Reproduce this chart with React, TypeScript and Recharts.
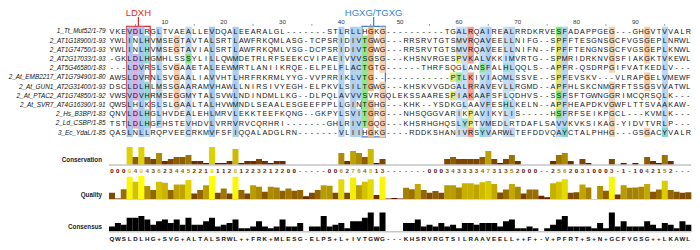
import React from 'react';
import { ScatterChart, Scatter, XAxis, YAxis, ReferenceArea, BarChart, Bar, Cell } from 'recharts';

const seqNames = [
  '1_Tt_Mut52/1-79',
  '2_AT1G18900/1-93',
  '2_AT1G74750/1-93',
  '2_AT2G17033/1-93',
  '2_AT5G46580/1-83',
  '2_At_EMB2217_AT1G79490/1-80',
  '2_At_GUN1_AT2G31400/1-93',
  '2_At_PTAC2_AT1G74850/1-92',
  '2_At_SVR7_AT4G16390/1-91',
  '2_Hs_B3BP/1-83',
  '2_Ld_CSBP/1-85',
  '3_Ec_YdaL/1-85',
];

const sequences = [
  'VKEVDLRGLTVAEALLEVDQALEEARALGL-------STLRLLHGKG----------TGALRQAIREALRRDKRVESFADAPPGEG---GHGVTVVALR',
  'YWLINLHVMSEGTAVTALSRTLAWFRKQMLASG-TCPSRIDIVTGWG---RRSRVTGTSMVRQAVEELLNIFG--SPFFTESGNSGCFVGSGEPLNRWL',
  'YWLINLHVMSEGTAVIALSRTLAWFRKQMLVSG-DCPSRIDIVTGWG---RRSRVTGTSMVRQAVEELLNIFN--FPFFTENGNSGCFVGSGEPLKNWL',
  '-GKLDLHGMHLSSSYLILLQWMDETRLRFSEEKCVIPAEIVVVSGSG---KHSNVRGESPVKALVKKIMVRTG--SPMRIDRKNVGSFIAKGKTVKEWL',
  '---LDVRSLSVGAAETALEEWMRTLANIIKRQE-ELPELFLACTGTG------THRFSQGLANSFALHLQQLS--APFR-QSDRPGIFVATKEDLV---',
  'AWSLDVRNLSVGAALIAVVHTLHRFRKRMLYYG-VVPRRIKLVTG-------------PTLKIVIAQMLSSVE--SPFEVSKV---VLRAPGELVMEWF',
  'DSCLDLHLMSSGAARAMVHAWLLNIRSIVYEGH-ELPKVLSILTGWG---KHSKVVGDGALRRAVEVLLRGMD--APFHLSKCNMGRFTSSGSVVATWL',
  'VWSVDVHRMSEGGMYTALSVWLNDINDMLLKG--DLPQLAVVVSVRGQLEKSSAARESPIAKAAFSFLQDHVS--SSFSFTGWNGGRIMCQRSQLK---',
  'QWSLHLKSLSLGAALTALHVWMNDLSEAALESGEEFPPLLGINTGHG---KHK--YSDKGLAAVFESHLKELN--APFHEAPDKVGWFLTTSVAAKAW-',
  'QNVLDLHGLHVDEALEHLMRVLEKKTEEFKQNG--GKPYLSVITGRG---NHSQGGVARIKPAVIKYLIS-----HSFRFSEIKPGCL---KVMLK---',
  'TSTLDLHGFHSTEVHDVLVRRVRVCQRHRI-------GHLRIVTGQG---KHSRHGHQSLYPTVMEDLRTDAFLSAVVKVKSIKAG-YIDVTVRLP---',
  'QASLNLLRQPVEECRKMVFSFIQQALADGLRN-------VLIIHGKG----RDDKSHANIVRSYVARWLTEFDDVQAYCTALPHHG---GSGACYVALR',
];

const rulerTicks = [5, 10, 15, 20, 25, 30, 35, 40, 45, 50, 55, 60, 65, 70, 75, 80, 85, 90, 95];

const conservationSymbols = (
  '0009494362344522191128' + '1223212200' + '-----' + '0062764813' + '-------' +
  '0003433334731352000' + '--' + '25620310003' + '-' + '1' + '-' + '1042152' + '---'
).split('');

const qualityValues = [
  29, 4, 44, 97, 76, 100, 57, 40, 76, 71,
  40, 64, 64, 83, 26, 40, 61, 100, 29, 47,
  26, 97, 40, 26, 61, 54, 33, 54, 51, 37,
  47, 37, 40, 14, 29, 40, 61, 59, 29, 86,
  29, 94, 61, 76, 86, 19, 97, 4, 6, 4,
  50, 44, 66, 40, 29, 36, 29, 61, 61, 51,
  69, 69, 64, 73, 79, 66, 30, 43, 66, 54,
  26, 43, 43, 16, 10, 69, 76, 86, 29, 31,
  64, 51, 0, 57, 37, 97, 21, 61, 50, 51,
  54, 66, 33, 43, 80, 40, 33, 29, 31,
];

const consensusValues = [
  25, 42, 33, 67, 67, 75, 58, 33, 50, 58,
  42, 58, 33, 67, 33, 33, 50, 67, 25, 33,
  42, 58, 17, 17, 25, 50, 25, 17, 25, 58,
  25, 25, 42, 0, 25, 25, 75, 25, 33, 42,
  17, 50, 50, 67, 92, 25, 92, 0, 0, 0,
  42, 42, 58, 25, 33, 25, 42, 25, 33, 17,
  42, 42, 33, 42, 42, 42, 25, 50, 58, 17,
  17, 25, 17, 0, 17, 33, 58, 75, 25, 25,
  25, 25, 17, 42, 17, 92, 25, 50, 25, 25,
  25, 50, 33, 17, 42, 33, 17, 50, 33,
];

const consensusLetters =
  'QWSLDLHG+SVG+ALTALSRWL++FRK+MLESG-ELPS+L+IVTGWG---KHSRVRGTSILRAAVEELL++F+-V+PFRT+S+N+GCFVGSG++LKAWL'.split('');

const motifLabels = ['LDXH', 'HGXG/TGXG'];
const motifStartCol = [4, 44];
const motifEndCol = [7, 47];
const motifLastRow = [11, 12];

const trackLabels = ['Conservation', 'Quality', 'Consensus'];

// ---------- styling / geometry ----------
const FONT = '"Liberation Sans", Arial, Helvetica, sans-serif';
const W = 700;
const LEFT = 109;
const RIGHT = 8.8;
const NCOL = 99;
const CELL_W = (W - LEFT - RIGHT) / NCOL;
const MOTIF_COLORS = ['#e8262a', '#3a7fd6'];

const AL_H = 140;
const AL_MT = 6.4;
const AL_AXIS_H = 20;
const AL_MB = 3.1;
const ROW_H = (AL_H - AL_MT - AL_AXIS_H - AL_MB) / seqNames.length;

const BASE: Record<string, number[]> = {
  blue: [128, 179, 230],
  red: [230, 51, 26],
  green: [26, 204, 26],
  orange: [230, 153, 77],
  cyan: [26, 179, 179],
  pink: [230, 128, 128],
  magenta: [204, 77, 204],
  yellow: [204, 204, 0],
};

const bleach = (rgb: number[], f: number) =>
  `rgb(${rgb.map((v) => Math.round(v + (255 - v) * f)).join(',')})`;

const annColor = (v: number) => {
  const t = Math.max(0, Math.min(1, v));
  return `rgb(${Math.round(76 + 179 * t)},${Math.round(255 * t)},0)`;
};

const consScore = (c: number) => {
  const s = conservationSymbols[c];
  if (s === '*') return 11;
  if (s === '+') return 10;
  const n = Number(s);
  return Number.isFinite(n) ? n : -1;
};

function clustalClass(res: string, counts: Record<string, number>, n: number): string | null {
  const pct = (set: string) => (set.split('').reduce((s, c) => s + (counts[c] || 0), 0) / n) * 100;
  const any85 = (set: string) => set.split('').some((c) => pct(c) >= 85);
  const hyd = pct('WLVIMAFCHP');
  const kr = pct('KR');
  const qe = pct('QE');
  const ed = pct('ED');
  const ts = pct('TS');
  switch (res) {
    case 'A': case 'I': case 'L': case 'M': case 'F': case 'W': case 'V':
      return hyd >= 60 ? 'blue' : null;
    case 'C':
      if (pct('C') >= 85) return 'pink';
      return hyd >= 60 ? 'blue' : null;
    case 'K': case 'R':
      return kr >= 60 || any85('KRQ') ? 'red' : null;
    case 'E':
      return kr >= 60 || qe >= 50 || ed >= 50 || any85('EQD') ? 'magenta' : null;
    case 'D':
      return kr >= 60 || any85('KRQ') || ed >= 50 ? 'magenta' : null;
    case 'N':
      return pct('N') >= 50 || any85('NY') ? 'green' : null;
    case 'Q':
      return kr >= 60 || qe >= 50 || any85('QEKR') ? 'green' : null;
    case 'S': case 'T':
      return hyd >= 60 || ts >= 50 || any85('ST') ? 'green' : null;
    case 'G':
      return pct('G') >= 50 ? 'orange' : null;
    case 'P':
      return 'yellow';
    case 'H': case 'Y':
      return hyd >= 60 || any85('WYACPQFHILMV') ? 'cyan' : null;
    default:
      return null;
  }
}

const alignment = sequences.map((s) => s.padEnd(NCOL, '-').slice(0, NCOL));

type CellDatum = { x: number; y: number; ch: string; fill: string | null };
const cellData: CellDatum[] = [];
for (let c = 0; c < NCOL; c++) {
  const counts: Record<string, number> = {};
  alignment.forEach((s) => {
    counts[s[c]] = (counts[s[c]] || 0) + 1;
  });
  const score = consScore(c);
  alignment.forEach((s, r) => {
    const ch = s[c];
    let fill: string | null = null;
    if (score >= 3 && ch !== '-') {
      const cls = clustalClass(ch, counts, alignment.length);
      if (cls) fill = bleach(BASE[cls], 0.28 + (9 - Math.min(score, 9)) * 0.045);
    }
    cellData.push({ x: c + 1, y: r + 1, ch, fill });
  });
}

const conservationData = conservationSymbols.map((s, i) => ({ col: i + 1, v: Math.max(0, consScore(i)) }));
const qualityData = qualityValues.map((v, i) => ({ col: i + 1, v }));
const consensusData = consensusValues.map((v, i) => ({ col: i + 1, v }));

// ---------- custom renderers ----------
const CellShape = (props: any) => {
  const { cx, cy, payload } = props;
  if (cx == null || cy == null) return null;
  return (
    <g>
      {payload.fill && (
        <rect x={cx - CELL_W / 2} y={cy - ROW_H / 2} width={CELL_W + 0.3} height={ROW_H + 0.3} fill={payload.fill} />
      )}
      <text x={cx} y={cy + 2.6} textAnchor="middle" fontSize={7.2} fontWeight={500} fontFamily={FONT} fill="#111">
        {payload.ch}
      </text>
    </g>
  );
};

const NameTick = (props: any) => {
  const { x, y, payload } = props;
  const name = seqNames[payload.value - 1] ?? '';
  return (
    <text x={x} y={y + 2.3} textAnchor="end" fontSize={6.4} fontStyle="italic" fontFamily={FONT} fill="#111">
      {name}
    </text>
  );
};

const RulerTick = (props: any) => {
  const { x, y, payload } = props;
  if (payload.value % 10 === 0) {
    return (
      <text x={x} y={y - 2.5} textAnchor="middle" fontSize={6.2} fontFamily={FONT} fill="#333">
        {payload.value}
      </text>
    );
  }
  return <circle cx={x} cy={y - 1.5} r={0.55} fill="#555" />;
};

const MotifLabel = (props: any) => {
  const { viewBox, text, color } = props;
  if (!viewBox) return null;
  const cx = viewBox.x + viewBox.width / 2;
  const top = viewBox.y;
  return (
    <g>
      <line x1={cx} x2={cx} y1={top} y2={top - 9.5} stroke={color} strokeWidth={1.2} />
      <text x={cx} y={top - 10.8} textAnchor="middle" fontSize={9.5} fontFamily={FONT} fill={color}>
        {text}
      </text>
    </g>
  );
};

const TrackLabel = (props: any) => {
  const { viewBox, text } = props;
  if (!viewBox) return null;
  return (
    <text
      x={viewBox.x + viewBox.width - 7}
      y={viewBox.y + viewBox.height - 3}
      textAnchor="end"
      fontSize={6.3}
      fontWeight={600}
      fontFamily={FONT}
      fill="#222"
    >
      {text}
    </text>
  );
};

const ConsTick = (props: any) => {
  const { x, y, payload, index } = props;
  const i = typeof index === 'number' ? index : payload.value - 1;
  const sym = conservationSymbols[i];
  const sc = consScore(i);
  const fill = sc < 0 ? '#6b3b2b' : annColor(sc / 11);
  return (
    <text x={x} y={y + 7.7} textAnchor="middle" fontSize={6.2} fontWeight={600} fontFamily={FONT} fill={fill}>
      {sym}
    </text>
  );
};

const ConsensusTick = (props: any) => {
  const { x, y, payload, index } = props;
  const i = typeof index === 'number' ? index : payload.value - 1;
  return (
    <text x={x} y={y + 9} textAnchor="middle" fontSize={6.2} fontWeight={700} fontFamily={FONT} fill="#111">
      {consensusLetters[i]}
    </text>
  );
};

export default function App() {
  const rowTicks = seqNames.map((_, i) => i + 1);
  return (
    <div style={{ position: 'absolute', left: 0, top: 0, width: W, height: 250, background: '#fff' }}>
      {/* alignment */}
      <div style={{ position: 'absolute', left: 0, top: 0 }}>
        <ScatterChart width={W} height={AL_H} margin={{ top: AL_MT, right: RIGHT, bottom: AL_MB, left: 0 }}>
          <XAxis
            type="number"
            dataKey="x"
            orientation="top"
            domain={[0.5, NCOL + 0.5]}
            allowDataOverflow
            ticks={rulerTicks}
            interval={0}
            height={AL_AXIS_H}
            tickSize={0}
            tickMargin={0}
            axisLine={false}
            tickLine={false}
            tick={<RulerTick />}
          />
          <YAxis
            type="number"
            dataKey="y"
            domain={[0.5, seqNames.length + 0.5]}
            allowDataOverflow
            reversed
            ticks={rowTicks}
            interval={0}
            width={LEFT}
            tickSize={0}
            tickMargin={3.5}
            axisLine={false}
            tickLine={false}
            tick={<NameTick />}
          />
          <Scatter data={cellData} isAnimationActive={false} shape={(p: any) => <CellShape {...p} />} />
          {motifLabels.map((m, i) => (
            <ReferenceArea
              key={m}
              x1={motifStartCol[i] - 0.5}
              x2={motifEndCol[i] + 0.5}
              y1={0.5}
              y2={motifLastRow[i] + 0.5}
              fill="none"
              fillOpacity={0}
              stroke={MOTIF_COLORS[i]}
              strokeWidth={1.3}
              strokeOpacity={1}
              ifOverflow="visible"
              label={<MotifLabel text={m} color={MOTIF_COLORS[i]} />}
            />
          ))}
        </ScatterChart>
      </div>

      {/* conservation */}
      <div style={{ position: 'absolute', left: 0, top: 140 }}>
        <BarChart width={W} height={35} data={conservationData} margin={{ top: 3, right: RIGHT, bottom: 0, left: 0 }} barCategoryGap={0} barGap={0}>
          <XAxis
            dataKey="col"
            type="category"
            interval={0}
            height={10}
            tickSize={0}
            tickMargin={0}
            tickLine={false}
            axisLine={{ stroke: '#c4c4c4', strokeWidth: 1.5 }}
            tick={<ConsTick />}
          />
          <YAxis width={LEFT} domain={[0, 11]} allowDataOverflow tick={false} axisLine={false} tickLine={false} label={<TrackLabel text={trackLabels[0]} />} />
          <Bar dataKey="v" isAnimationActive={false}>
            {conservationData.map((d) => (
              <Cell key={d.col} fill={annColor(d.v / 11)} />
            ))}
          </Bar>
        </BarChart>
      </div>

      {/* quality */}
      <div style={{ position: 'absolute', left: 0, top: 175 }}>
        <BarChart width={W} height={27} data={qualityData} margin={{ top: 1, right: RIGHT, bottom: 0, left: 0 }} barCategoryGap={0} barGap={0}>
          <XAxis dataKey="col" type="category" interval={0} height={2.5} tick={false} tickLine={false} axisLine={{ stroke: '#d4d4d4', strokeWidth: 1.2 }} />
          <YAxis width={LEFT} domain={[0, 100]} allowDataOverflow tick={false} axisLine={false} tickLine={false} label={<TrackLabel text={trackLabels[1]} />} />
          <Bar dataKey="v" isAnimationActive={false}>
            {qualityData.map((d) => (
              <Cell key={d.col} fill={annColor(d.v / 100)} />
            ))}
          </Bar>
        </BarChart>
      </div>

      {/* consensus */}
      <div style={{ position: 'absolute', left: 0, top: 205 }}>
        <BarChart width={W} height={45} data={consensusData} margin={{ top: 5.7, right: RIGHT, bottom: 0, left: 0 }} barCategoryGap={0} barGap={0}>
          <XAxis
            dataKey="col"
            type="category"
            interval={0}
            height={18.3}
            tickSize={0}
            tickMargin={0}
            tickLine={false}
            axisLine={{ stroke: '#c8c8c8', strokeWidth: 1.5 }}
            tick={<ConsensusTick />}
          />
          <YAxis width={LEFT} domain={[0, 100]} allowDataOverflow tick={false} axisLine={false} tickLine={false} label={<TrackLabel text={trackLabels[2]} />} />
          <Bar dataKey="v" fill="#000" isAnimationActive={false} />
        </BarChart>
      </div>
    </div>
  );
}
